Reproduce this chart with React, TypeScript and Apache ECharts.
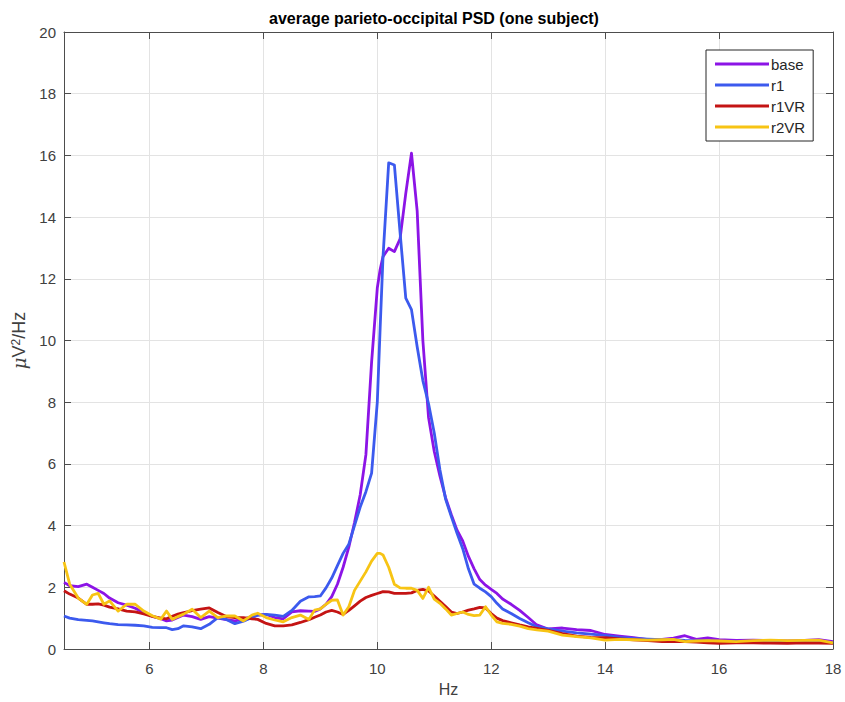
import React, { useEffect, useRef } from "react";
import * as echarts from "echarts";

const freq = [
  4.5, 4.6, 4.75, 4.9, 5.0, 5.1, 5.2, 5.3, 5.45, 5.6, 5.75, 5.9, 6.05, 6.2, 6.3, 6.4, 6.5, 6.6, 6.75, 6.9,
  7.05, 7.2, 7.35, 7.5, 7.65, 7.8, 7.9, 8.05, 8.2, 8.35, 8.5, 8.65, 8.8, 8.9, 9.0, 9.1, 9.2, 9.3, 9.4, 9.5,
  9.6, 9.7, 9.8, 9.9, 10.0, 10.05, 10.1, 10.2, 10.3, 10.4, 10.5, 10.6, 10.7, 10.8, 10.9, 11.0, 11.1, 11.2, 11.3, 11.4,
  11.5, 11.6, 11.7, 11.8, 11.9, 12.0, 12.1, 12.2, 12.35, 12.5, 12.65, 12.8, 13.0, 13.25, 13.5, 13.75, 14.0, 14.25, 14.5, 14.75,
  15.0, 15.2, 15.4, 15.6, 15.8, 16.0, 16.3, 16.6, 16.9, 17.2, 17.5, 17.75, 18.0,
];

const base = [
  2.16, 2.05, 2.02, 2.1, 2.0, 1.9, 1.8, 1.65, 1.5, 1.42, 1.32, 1.18, 1.06, 0.98, 0.91, 0.94, 1.02, 1.1, 1.05, 0.96,
  1.05, 1.0, 0.95, 0.91, 0.97, 1.05, 1.1, 1.12, 1.02, 0.98, 1.2, 1.24, 1.23, 1.22, 1.3, 1.45, 1.7, 2.1, 2.65, 3.3,
  4.1, 5.0, 6.3, 9.3, 11.7, 12.3, 12.72, 12.99, 12.88, 13.3, 14.77, 16.07, 14.2, 10.0, 7.5, 6.4, 5.6, 4.9, 4.35, 3.85,
  3.5, 3.0, 2.6, 2.25, 2.07, 1.93, 1.8, 1.62, 1.45, 1.25, 1.02, 0.78, 0.65, 0.68, 0.63, 0.6, 0.47, 0.42, 0.37, 0.3,
  0.31, 0.35, 0.43, 0.31, 0.36, 0.3, 0.28, 0.29, 0.27, 0.26, 0.28, 0.3, 0.24,
];

const r1 = [
  1.07, 1.0, 0.95, 0.93, 0.91, 0.88, 0.85, 0.82, 0.79, 0.78, 0.77, 0.75, 0.7, 0.69, 0.69, 0.63, 0.66, 0.75, 0.72, 0.66,
  0.8, 1.02, 0.96, 0.82, 0.9, 1.02, 1.1, 1.12, 1.1, 1.06, 1.25, 1.55, 1.69, 1.7, 1.72, 1.98, 2.3, 2.7, 3.1, 3.4,
  4.0, 4.6, 5.1, 5.7, 8.0, 10.4, 12.7, 15.76, 15.69, 13.5, 11.37, 11.0, 9.8, 8.7, 7.95, 7.0, 5.8, 4.85, 4.29, 3.75,
  3.25, 2.6, 2.1, 1.97, 1.85, 1.7, 1.48, 1.3, 1.15, 0.99, 0.85, 0.72, 0.65, 0.58, 0.52, 0.48, 0.44, 0.38, 0.34, 0.32,
  0.3, 0.3, 0.28, 0.27, 0.27, 0.25, 0.24, 0.25, 0.24, 0.25, 0.23, 0.24, 0.2,
];

const r1VR = [
  1.89, 1.78, 1.65, 1.45, 1.45, 1.46, 1.42, 1.36, 1.3, 1.23, 1.2, 1.14, 1.06, 1.0, 0.98, 1.06, 1.13, 1.18, 1.24, 1.29,
  1.33, 1.18, 1.05, 1.02, 1.02, 0.98, 0.96, 0.83, 0.75, 0.75, 0.78, 0.86, 0.95, 1.03, 1.1, 1.2, 1.25, 1.2, 1.12, 1.25,
  1.4, 1.55, 1.67, 1.74, 1.8, 1.83, 1.86, 1.85, 1.8, 1.8, 1.8, 1.82, 1.9, 1.93, 1.88, 1.72, 1.55, 1.38, 1.2, 1.15,
  1.2, 1.26, 1.3, 1.35, 1.33, 1.15, 1.0, 0.92, 0.85, 0.78, 0.72, 0.67, 0.6, 0.5, 0.42, 0.38, 0.37, 0.33, 0.3, 0.27,
  0.24, 0.24, 0.24, 0.22, 0.2, 0.18, 0.2, 0.2, 0.19, 0.18, 0.2, 0.19, 0.18,
];

const r2VR = [
  2.82, 2.1, 1.65, 1.45, 1.75, 1.8, 1.45, 1.56, 1.23, 1.45, 1.45, 1.23, 1.08, 0.97, 1.23, 0.96, 1.05, 1.13, 1.29, 1.02,
  1.23, 1.02, 1.07, 1.07, 0.91, 1.1, 1.16, 1.02, 0.94, 0.88, 1.02, 1.1, 0.96, 1.26, 1.3, 1.45, 1.58, 1.59, 1.1, 1.37,
  1.9, 2.2, 2.5, 2.85, 3.1, 3.1, 3.05, 2.65, 2.1, 1.98, 1.97, 1.97, 1.9, 1.64, 2.0, 1.62, 1.48, 1.3, 1.1, 1.15,
  1.2, 1.12, 1.08, 1.1, 1.37, 1.1, 0.88, 0.83, 0.8, 0.74, 0.66, 0.62, 0.58, 0.45, 0.4, 0.36, 0.29, 0.31, 0.3, 0.29,
  0.3, 0.31, 0.24, 0.26, 0.27, 0.26, 0.24, 0.27, 0.29, 0.27, 0.28, 0.29, 0.2,
];

const seriesNames = ["base", "r1", "r1VR", "r2VR"];
const seriesColors = ["#8C14E6", "#3C5AEE", "#C41414", "#F7C414"];
const seriesValues = [base, r1, r1VR, r2VR];

const titleText = "average parieto-occipital PSD (one subject)";

export default function App() {
  const ref = useRef<HTMLDivElement>(null);

  useEffect(() => {
    if (!ref.current) return;
    const chart = echarts.init(ref.current, undefined, { renderer: "svg" });
    const axisColor = "#4d4d4d";
    const labelColor = "#404040";
    const font = "'Liberation Sans', Arial, Helvetica, sans-serif";
    const commonX = {
      type: "value",
      min: 4.5,
      max: 18,
      splitNumber: 7,
      axisLine: { show: true, onZero: false, lineStyle: { color: axisColor, width: 1 } },
      axisTick: { show: true, inside: true, length: 7, lineStyle: { color: axisColor, width: 1 } },
    };
    const commonY = {
      type: "value",
      min: 0,
      max: 20,
      interval: 2,
      axisLine: { show: true, onZero: false, lineStyle: { color: axisColor, width: 1 } },
      axisTick: { show: true, inside: true, length: 7, lineStyle: { color: axisColor, width: 1 } },
    };
    chart.setOption({
      animation: false,
      backgroundColor: "#ffffff",
      textStyle: { fontFamily: font },
      grid: { left: 64, right: 12, top: 32, bottom: 53 },
      graphic: [
        {
          type: "text",
          x: 434,
          y: 18,
          style: {
            text: titleText,
            fill: "#000000",
            font: `bold 16px ${font}`,
            align: "center",
            verticalAlign: "middle",
          },
        },
      ],
      legend: {
        orient: "vertical",
        left: 706,
        top: 50,
        padding: [6, 8, 6, 9],
        itemWidth: 54,
        itemHeight: 3,
        itemGap: 5,
        icon: "rect",
        backgroundColor: "#ffffff",
        borderColor: "#262626",
        borderWidth: 1,
        borderRadius: 0,
        textStyle: { fontSize: 15, color: "#262626", fontFamily: font, lineHeight: 16, padding: [0, 0, 0, -3] },
        data: seriesNames,
      },
      xAxis: [
        {
          ...commonX,
          position: "bottom",
          name: "Hz",
          nameLocation: "middle",
          nameGap: 32,
          nameTextStyle: { fontSize: 16, color: labelColor, fontFamily: font },
          axisLabel: {
            fontSize: 15,
            color: labelColor,
            margin: 12,
            fontFamily: font,
            formatter: (v: number) => (Math.abs(v % 2) < 1e-9 ? String(v) : ""),
          },
          splitLine: { show: true, lineStyle: { color: "#e3e3e3", width: 1 } },
        },
        {
          ...commonX,
          position: "top",
          axisLabel: { show: false },
          splitLine: { show: false },
        },
      ],
      yAxis: [
        {
          ...commonY,
          position: "left",
          name: "{mu|μ}{t|V}{sup|2}{t|/Hz}",
          nameLocation: "middle",
          nameGap: 32,
          nameRotate: 90,
          nameTextStyle: {
            fontSize: 18,
            color: labelColor,
            fontFamily: font,
            rich: {
              mu: { fontSize: 18, color: labelColor, fontStyle: "italic", fontFamily: "'DejaVu Serif', serif", verticalAlign: "bottom" },
              t: { fontSize: 18, color: labelColor, fontFamily: font, verticalAlign: "bottom" },
              sup: { fontSize: 12, color: labelColor, fontFamily: font, verticalAlign: "top" },
            },
          },
          axisLabel: { fontSize: 15, color: labelColor, margin: 8, fontFamily: font },
          splitLine: { show: true, lineStyle: { color: "#e3e3e3", width: 1 } },
        },
        {
          ...commonY,
          position: "right",
          axisLabel: { show: false },
          splitLine: { show: false },
        },
      ],
      series: seriesNames.map((name, k) => ({
        name,
        type: "line",
        xAxisIndex: 0,
        yAxisIndex: 0,
        symbol: "none",
        clip: true,
        color: seriesColors[k],
        lineStyle: { width: 2.8, color: seriesColors[k], join: "round" },
        data: freq.map((f, i) => [f, seriesValues[k][i]]),
      })),
    });
    return () => chart.dispose();
  }, []);

  return (
    <div
      ref={ref}
      style={{ position: "absolute", left: 0, top: 0, width: 845, height: 702, background: "#fff" }}
    />
  );
}
